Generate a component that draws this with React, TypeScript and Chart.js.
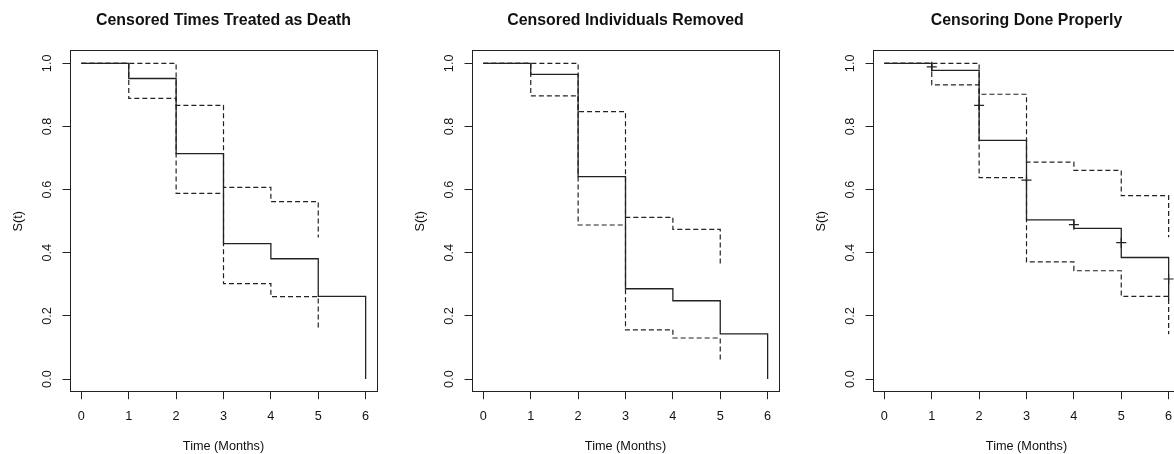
import React, { useEffect, useRef } from 'react';
import { Chart, registerables } from 'chart.js';

Chart.register(...registerables);

// ---- data ----
const timePoints = [0, 1, 2, 3, 4, 5, 6];
const xTickValues = [0, 1, 2, 3, 4, 5, 6];
const xTickLabels = ['0', '1', '2', '3', '4', '5', '6'];
const yTickValues = [0, 0.2, 0.4, 0.6, 0.8, 1.0];
const yTickLabels = ['0.0', '0.2', '0.4', '0.6', '0.8', '1.0'];

const panelTitles = [
  'Censored Times Treated as Death',
  'Censored Individuals Removed',
  'Censoring Done Properly',
];
const xAxisTitle = 'Time (Months)';
const yAxisTitle = 'S(t)';

// Panel 1: censored times treated as death
const deathSurv = [1, 0.952, 0.714, 0.429, 0.381, 0.262, 0];
const deathUpper = [1, 1, 0.867, 0.607, 0.562, 0.448];
const deathLower = [1, 0.889, 0.588, 0.302, 0.261, 0.155];

// Panel 2: censored individuals removed
const removedSurv = [1, 0.965, 0.641, 0.286, 0.248, 0.143, 0];
const removedUpper = [1, 1, 0.847, 0.512, 0.474, 0.359];
const removedLower = [1, 0.897, 0.488, 0.156, 0.13, 0.055];

// Panel 3: censoring done properly
const properSurv = [1, 0.978, 0.756, 0.504, 0.477, 0.385, 0.25];
const properUpper = [1, 1, 0.902, 0.687, 0.661, 0.581, 0.449];
const properLower = [1, 0.932, 0.638, 0.371, 0.343, 0.262, 0.142];
const properCensorTimes = [1, 2, 3, 4, 5, 6];
const properCensorSurv = [0.989, 0.867, 0.63, 0.489, 0.432, 0.317];

// ---- style ----
const FONT = "'Liberation Sans', Arial, sans-serif";
const TEXT = '#111';
const LINE = '#222';
const CANVAS_W = 447;
const CANVAS_H = 454;
const panelLefts = [0, 401.7, 803];

type PanelProps = {
  left: number;
  title: string;
  surv: number[];
  upper: number[];
  lower: number[];
  censorTimes?: number[];
  censorSurv?: number[];
};

const toXY = (ys: number[]) => ys.map((y, i) => ({ x: timePoints[i], y }));

function Panel({ left, title, surv, upper, lower, censorTimes, censorSurv }: PanelProps) {
  const ref = useRef<HTMLCanvasElement | null>(null);

  useEffect(() => {
    if (!ref.current) return;
    const labelFont = { family: FONT, size: 12.7, lineHeight: 1.2 };
    const datasets: any[] = [];
    if (censorTimes && censorSurv) {
      datasets.push({
        data: censorTimes.map((t, i) => ({ x: t, y: censorSurv[i] })),
        showLine: false,
        pointStyle: 'cross',
        pointRadius: 5,
        pointBorderWidth: 1.2,
        pointBorderColor: LINE,
        pointBackgroundColor: LINE,
      });
    }
    datasets.push({
      data: toXY(surv),
      borderColor: LINE,
      borderWidth: 1.3,
      pointRadius: 0,
      stepped: true,
      fill: false,
    });
    datasets.push({
      data: toXY(upper),
      borderColor: LINE,
      borderWidth: 1.2,
      borderDash: [5, 3],
      pointRadius: 0,
      stepped: true,
      fill: false,
    });
    datasets.push({
      data: toXY(lower),
      borderColor: LINE,
      borderWidth: 1.2,
      borderDash: [5, 3],
      pointRadius: 0,
      stepped: true,
      fill: false,
    });

    const chart = new Chart(ref.current, {
      type: 'line',
      data: { datasets },
      options: {
        responsive: false,
        animation: false,
        events: [],
        layout: { padding: 0 },
        plugins: {
          legend: { display: false },
          tooltip: { enabled: false },
          title: {
            display: true,
            text: title,
            color: TEXT,
            font: { family: FONT, size: 15.9, weight: 'bold', lineHeight: 1.2 },
            padding: { top: 11.46, bottom: 20.16 },
          },
        },
        scales: {
          x: {
            type: 'linear',
            position: 'bottom',
            min: -0.24,
            max: 6.24,
            bounds: 'data',
            afterBuildTicks: (s: any) => {
              s.ticks = xTickValues.map((v) => ({ value: v }));
            },
            afterFit: (s: any) => {
              s.height = 62.3;
            },
            ticks: {
              autoSkip: false,
              minRotation: 0,
              maxRotation: 0,
              padding: 9.2,
              color: TEXT,
              font: labelFont,
              callback: (_v: any, i: number) => xTickLabels[i],
            },
            grid: { drawOnChartArea: false, drawTicks: true, tickLength: 7.5, color: LINE, lineWidth: 1 },
            border: { display: true, color: LINE, width: 1 },
            title: {
              display: true,
              text: xAxisTitle,
              color: TEXT,
              font: labelFont,
              padding: { top: 0, bottom: 0.3 },
            },
          },
          y: {
            type: 'linear',
            position: 'left',
            min: -0.04,
            max: 1.04,
            bounds: 'data',
            afterBuildTicks: (s: any) => {
              s.ticks = yTickValues.map((v) => ({ value: v }));
            },
            afterFit: (s: any) => {
              s.width = 70;
            },
            ticks: {
              autoSkip: false,
              minRotation: 90,
              maxRotation: 90,
              crossAlign: 'center',
              padding: 5.7,
              color: TEXT,
              font: labelFont,
              callback: (_v: any, i: number) => yTickLabels[i],
            },
            grid: { drawOnChartArea: false, drawTicks: true, tickLength: 7.5, color: LINE, lineWidth: 1 },
            border: { display: true, color: LINE, width: 1 },
            title: {
              display: true,
              text: yAxisTitle,
              color: TEXT,
              font: labelFont,
              padding: { top: 10.9, bottom: 0 },
            },
          },
          x2: {
            type: 'linear',
            position: 'top',
            min: 0,
            max: 1,
            afterFit: (s: any) => {
              s.height = 0;
            },
            ticks: { display: false },
            grid: { drawOnChartArea: false, drawTicks: false },
            border: { display: true, color: LINE, width: 1 },
          },
          y2: {
            type: 'linear',
            position: 'right',
            min: 0,
            max: 1,
            afterFit: (s: any) => {
              s.width = 70;
            },
            ticks: { display: false },
            grid: { drawOnChartArea: false, drawTicks: false },
            border: { display: true, color: LINE, width: 1 },
          },
        },
      } as any,
    });
    return () => chart.destroy();
  }, [left, title, surv, upper, lower, censorTimes, censorSurv]);

  return (
    <div style={{ position: 'absolute', left, top: 0, width: CANVAS_W, height: CANVAS_H }}>
      <canvas ref={ref} width={CANVAS_W} height={CANVAS_H} style={{ display: 'block' }} />
    </div>
  );
}

export default function App() {
  return (
    <div
      style={{
        position: 'absolute',
        left: 0,
        top: 0,
        width: 1174,
        height: 454,
        overflow: 'hidden',
        background: '#fff',
      }}
    >
      <Panel left={panelLefts[0]} title={panelTitles[0]} surv={deathSurv} upper={deathUpper} lower={deathLower} />
      <Panel left={panelLefts[1]} title={panelTitles[1]} surv={removedSurv} upper={removedUpper} lower={removedLower} />
      <Panel
        left={panelLefts[2]}
        title={panelTitles[2]}
        surv={properSurv}
        upper={properUpper}
        lower={properLower}
        censorTimes={properCensorTimes}
        censorSurv={properCensorSurv}
      />
    </div>
  );
}
